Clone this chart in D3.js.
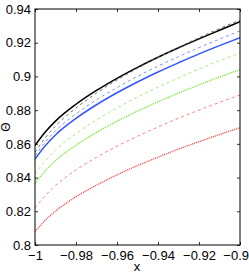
<!DOCTYPE html>
<html><head><meta charset="utf-8">
<script src="https://cdn.jsdelivr.net/npm/d3@7"></script>
<style>body{margin:0;background:#fff}svg{display:block}</style>
</head><body>
<script>
const xs = [-1, -0.995, -0.99, -0.98, -0.97, -0.96, -0.95, -0.94, -0.93, -0.92, -0.91, -0.90];
const blackSolid = [0.859, 0.8670, 0.8735, 0.8835, 0.8917, 0.8989, 0.9054, 0.9114, 0.9170, 0.9223, 0.9274, 0.9325];
const grayDashed = [0.855, 0.8636, 0.8706, 0.8813, 0.8901, 0.8979, 0.9048, 0.9113, 0.9173, 0.9230, 0.9284, 0.9335];
const blueDashed = [0.853, 0.8611, 0.8677, 0.8778, 0.8861, 0.8934, 0.9000, 0.9061, 0.9117, 0.9171, 0.9221, 0.927];
const blueSolid = [0.851, 0.8589, 0.8653, 0.8751, 0.8832, 0.8903, 0.8967, 0.9026, 0.9081, 0.9134, 0.9183, 0.923];
const greenDashed = [0.842, 0.8499, 0.8563, 0.8661, 0.8742, 0.8813, 0.8877, 0.8936, 0.8991, 0.9044, 0.9093, 0.914];
const greenDotted = [0.8366, 0.8440, 0.8500, 0.8592, 0.8668, 0.8734, 0.8794, 0.8849, 0.8901, 0.8950, 0.8996, 0.904];
const redDashed = [0.822, 0.8293, 0.8353, 0.8445, 0.8520, 0.8586, 0.8645, 0.8700, 0.8752, 0.8800, 0.8846, 0.889];
const redDotted = [0.8079, 0.8146, 0.8201, 0.8286, 0.8355, 0.8416, 0.8471, 0.8521, 0.8569, 0.8613, 0.8655, 0.8696];
const xTicks = [-1, -0.98, -0.96, -0.94, -0.92, -0.9];
const yTicks = [0.8, 0.82, 0.84, 0.86, 0.88, 0.9, 0.92, 0.94];

const W = 249, H = 277;
const L = 35, R = 240, T = 9, B = 245;
const svg = d3.select("body").append("svg").attr("width", W).attr("height", H);
const x = d3.scaleLinear().domain([-1, -0.9]).range([L, R]);
const y = d3.scaleLinear().domain([0.8, 0.94]).range([B, T]);
const fmt = d => (d < 0 ? "\u2212" : "") + String(Math.abs(d));
const font = "'Liberation Sans Narrow', 'Liberation Sans', Arial, sans-serif";

const series = [
  {v: redDotted, c: "#ff3030", w: 1.3, d: "1,1"},
  {v: redDashed, c: "#ff8080", w: 1, d: "3,3"},
  {v: greenDotted, c: "#66e61a", w: 1.3, d: "1,1"},
  {v: greenDashed, c: "#a6ee75", w: 1, d: "3,3"},
  {v: blueSolid, c: "#3355ff", w: 1.5, d: null},
  {v: blueDashed, c: "#7b96ff", w: 1, d: "3,3"},
  {v: blackSolid, c: "#000000", w: 1.5, d: null},
  {v: grayDashed, c: "#707070", w: 1, d: "3,3"}
];
const line = d3.line().x((d, i) => x(xs[i])).y(d => y(d)).curve(d3.curveMonotoneX);
const g = svg.append("g");
g.append("clipPath").attr("id", "clip").append("rect").attr("x", L).attr("y", T).attr("width", R - L).attr("height", B - T);
const lines = g.append("g").attr("clip-path", "url(#clip)");
series.forEach(s => {
  lines.append("path").datum(s.v).attr("d", line).attr("fill", "none")
    .attr("stroke", s.c).attr("stroke-width", s.w)
    .attr("stroke-dasharray", s.d);
});

// axes
const ax = d3.axisBottom(x).tickValues(xTicks).tickFormat(fmt).tickSizeInner(-3).tickSizeOuter(0).tickPadding(6);
const axT = d3.axisTop(x).tickValues(xTicks).tickFormat("").tickSizeInner(-3).tickSizeOuter(0);
const ay = d3.axisLeft(y).tickValues(yTicks).tickFormat(d => String(d)).tickSizeInner(-3).tickSizeOuter(0).tickPadding(4);
const ayR = d3.axisRight(y).tickValues(yTicks).tickFormat("").tickSizeInner(-3).tickSizeOuter(0);
const gx = svg.append("g").attr("transform", `translate(0,${B})`).call(ax);
svg.append("g").attr("transform", `translate(0,${T})`).call(axT);
const gy = svg.append("g").attr("transform", `translate(${L},0)`).call(ay);
svg.append("g").attr("transform", `translate(${R},0)`).call(ayR);
svg.selectAll(".domain").remove();
svg.selectAll(".tick line").attr("stroke", "#000").attr("stroke-width", 0.8);
svg.selectAll(".tick text").attr("font-family", font).attr("font-size", 13).attr("fill", "#000");
gx.selectAll(".tick text").filter(d => d === -0.9).attr("text-anchor", "end").attr("x", 8.5);
svg.append("rect").attr("x", L).attr("y", T).attr("width", R - L).attr("height", B - T)
  .attr("fill", "none").attr("stroke", "#000").attr("stroke-width", 1);

svg.append("text").attr("x", 137).attr("y", 271).attr("text-anchor", "middle")
  .attr("font-family", font).attr("font-size", 13).text("x");
svg.append("text").attr("transform", "translate(10,127) rotate(-90)").attr("text-anchor", "middle")
  .attr("font-family", font).attr("font-size", 12).text("\u0398");
</script>
</body></html>
